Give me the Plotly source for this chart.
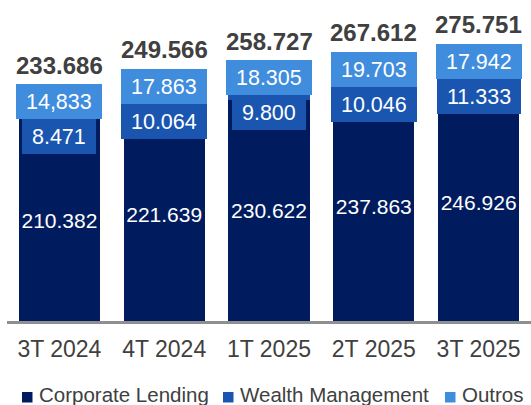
import plotly.graph_objects as go

categories = ["3T 2024", "4T 2024", "1T 2025", "2T 2025", "3T 2025"]
corporate_lending = [210.382, 221.639, 230.622, 237.863, 246.926]
wealth_management = [8.471, 10.064, 9.800, 10.046, 11.333]
outros = [14.833, 17.863, 18.305, 19.703, 17.942]
totals = [233.686, 249.566, 258.727, 267.612, 275.751]
outros_labels = ["14,833", "17.863", "18.305", "19.703", "17.942"]

series_names = ["Corporate Lending", "Wealth Management", "Outros"]
series_colors = ["#001c5e", "#1a56b0", "#418ddd"]

FONT = "Liberation Sans, Arial, sans-serif"
TEXT_GRAY = "#404040"
W, H = 531, 405
ML, MR, MT, MB = 7, 0, 0, 84
PW, PH = W - ML - MR, H - MT - MB


def fmt(v):
    return f"{v:.3f}"


def px_x(q):
    return (q - ML) / PW


def px_y(p):
    return (MT + PH - p) / PH


fig = go.Figure()
fig.add_trace(go.Bar(
    x=categories, y=corporate_lending, name=series_names[0],
    marker=dict(color=series_colors[0], line=dict(width=0)),
    text=[fmt(v) for v in corporate_lending], textposition="inside",
    insidetextanchor="middle", textangle=0,
    textfont=dict(family=FONT, size=21, color="white"),
))
fig.add_trace(go.Bar(
    x=categories, y=wealth_management, name=series_names[1],
    marker=dict(color=series_colors[1], line=dict(width=0)),
))
fig.add_trace(go.Bar(
    x=categories, y=outros, name=series_names[2],
    marker=dict(color=series_colors[2], line=dict(width=0)),
))

NB = "\u00a0"
for cat, tot, wm, ol in zip(categories, totals, wealth_management, outros_labels):
    # total label
    fig.add_annotation(x=cat, y=tot, xref="x", yref="y", text=f"<b>{fmt(tot)}</b>",
                       showarrow=False, yanchor="middle", yshift=31.6,
                       font=dict(family=FONT, size=24, color=TEXT_GRAY))
    # outros label box
    fig.add_annotation(x=cat, y=tot, xref="x", yref="y", text=NB + ol + NB,
                       showarrow=False, yanchor="top", yshift=12.5,
                       height=27, borderpad=4, borderwidth=0,
                       bgcolor=series_colors[2],
                       font=dict(family=FONT, size=21.5, color="white"))
    # wealth label box
    fig.add_annotation(x=cat, y=tot, xref="x", yref="y", text=NB + fmt(wm) + NB,
                       showarrow=False, yanchor="top", yshift=12.5 - 35,
                       height=27, borderpad=4, borderwidth=0,
                       bgcolor=series_colors[1],
                       font=dict(family=FONT, size=21.5, color="white"))

# manual legend
legend_sq = [22, 223, 445]
for name, color, sx in zip(series_names, series_colors, legend_sq):
    fig.add_shape(type="rect", xref="paper", yref="paper",
                  x0=px_x(sx), x1=px_x(sx + 10.5), y0=px_y(402.5), y1=px_y(392),
                  fillcolor=color, line=dict(width=0), layer="above")
    fig.add_annotation(x=px_x(sx + 15), y=px_y(394.5), xref="paper", yref="paper",
                       text=name, showarrow=False, xanchor="left", yanchor="middle",
                       font=dict(family=FONT, size=20.5, color=TEXT_GRAY))

fig.update_layout(
    width=W, height=H, barmode="stack", bargap=0.227,
    margin=dict(l=ML, r=MR, t=MT, b=MB, pad=0),
    paper_bgcolor="white", plot_bgcolor="white",
    showlegend=False,
    uniformtext=dict(minsize=21, mode="show"),
    font=dict(family=FONT, color=TEXT_GRAY),
)
fig.update_xaxes(showline=True, linecolor="#8f8f8f", linewidth=2.5, ticks="",
                 ticklabelstandoff=6,
                 tickfont=dict(family=FONT, size=23, color=TEXT_GRAY),
                 showgrid=False, zeroline=False)
fig.update_yaxes(visible=False, range=[0, PH / 0.96], showgrid=False, zeroline=False)

fig.write_html("out.html", config={"displayModeBar": False},
               post_script="document.body.style.margin='0';document.body.style.overflow='hidden';")
